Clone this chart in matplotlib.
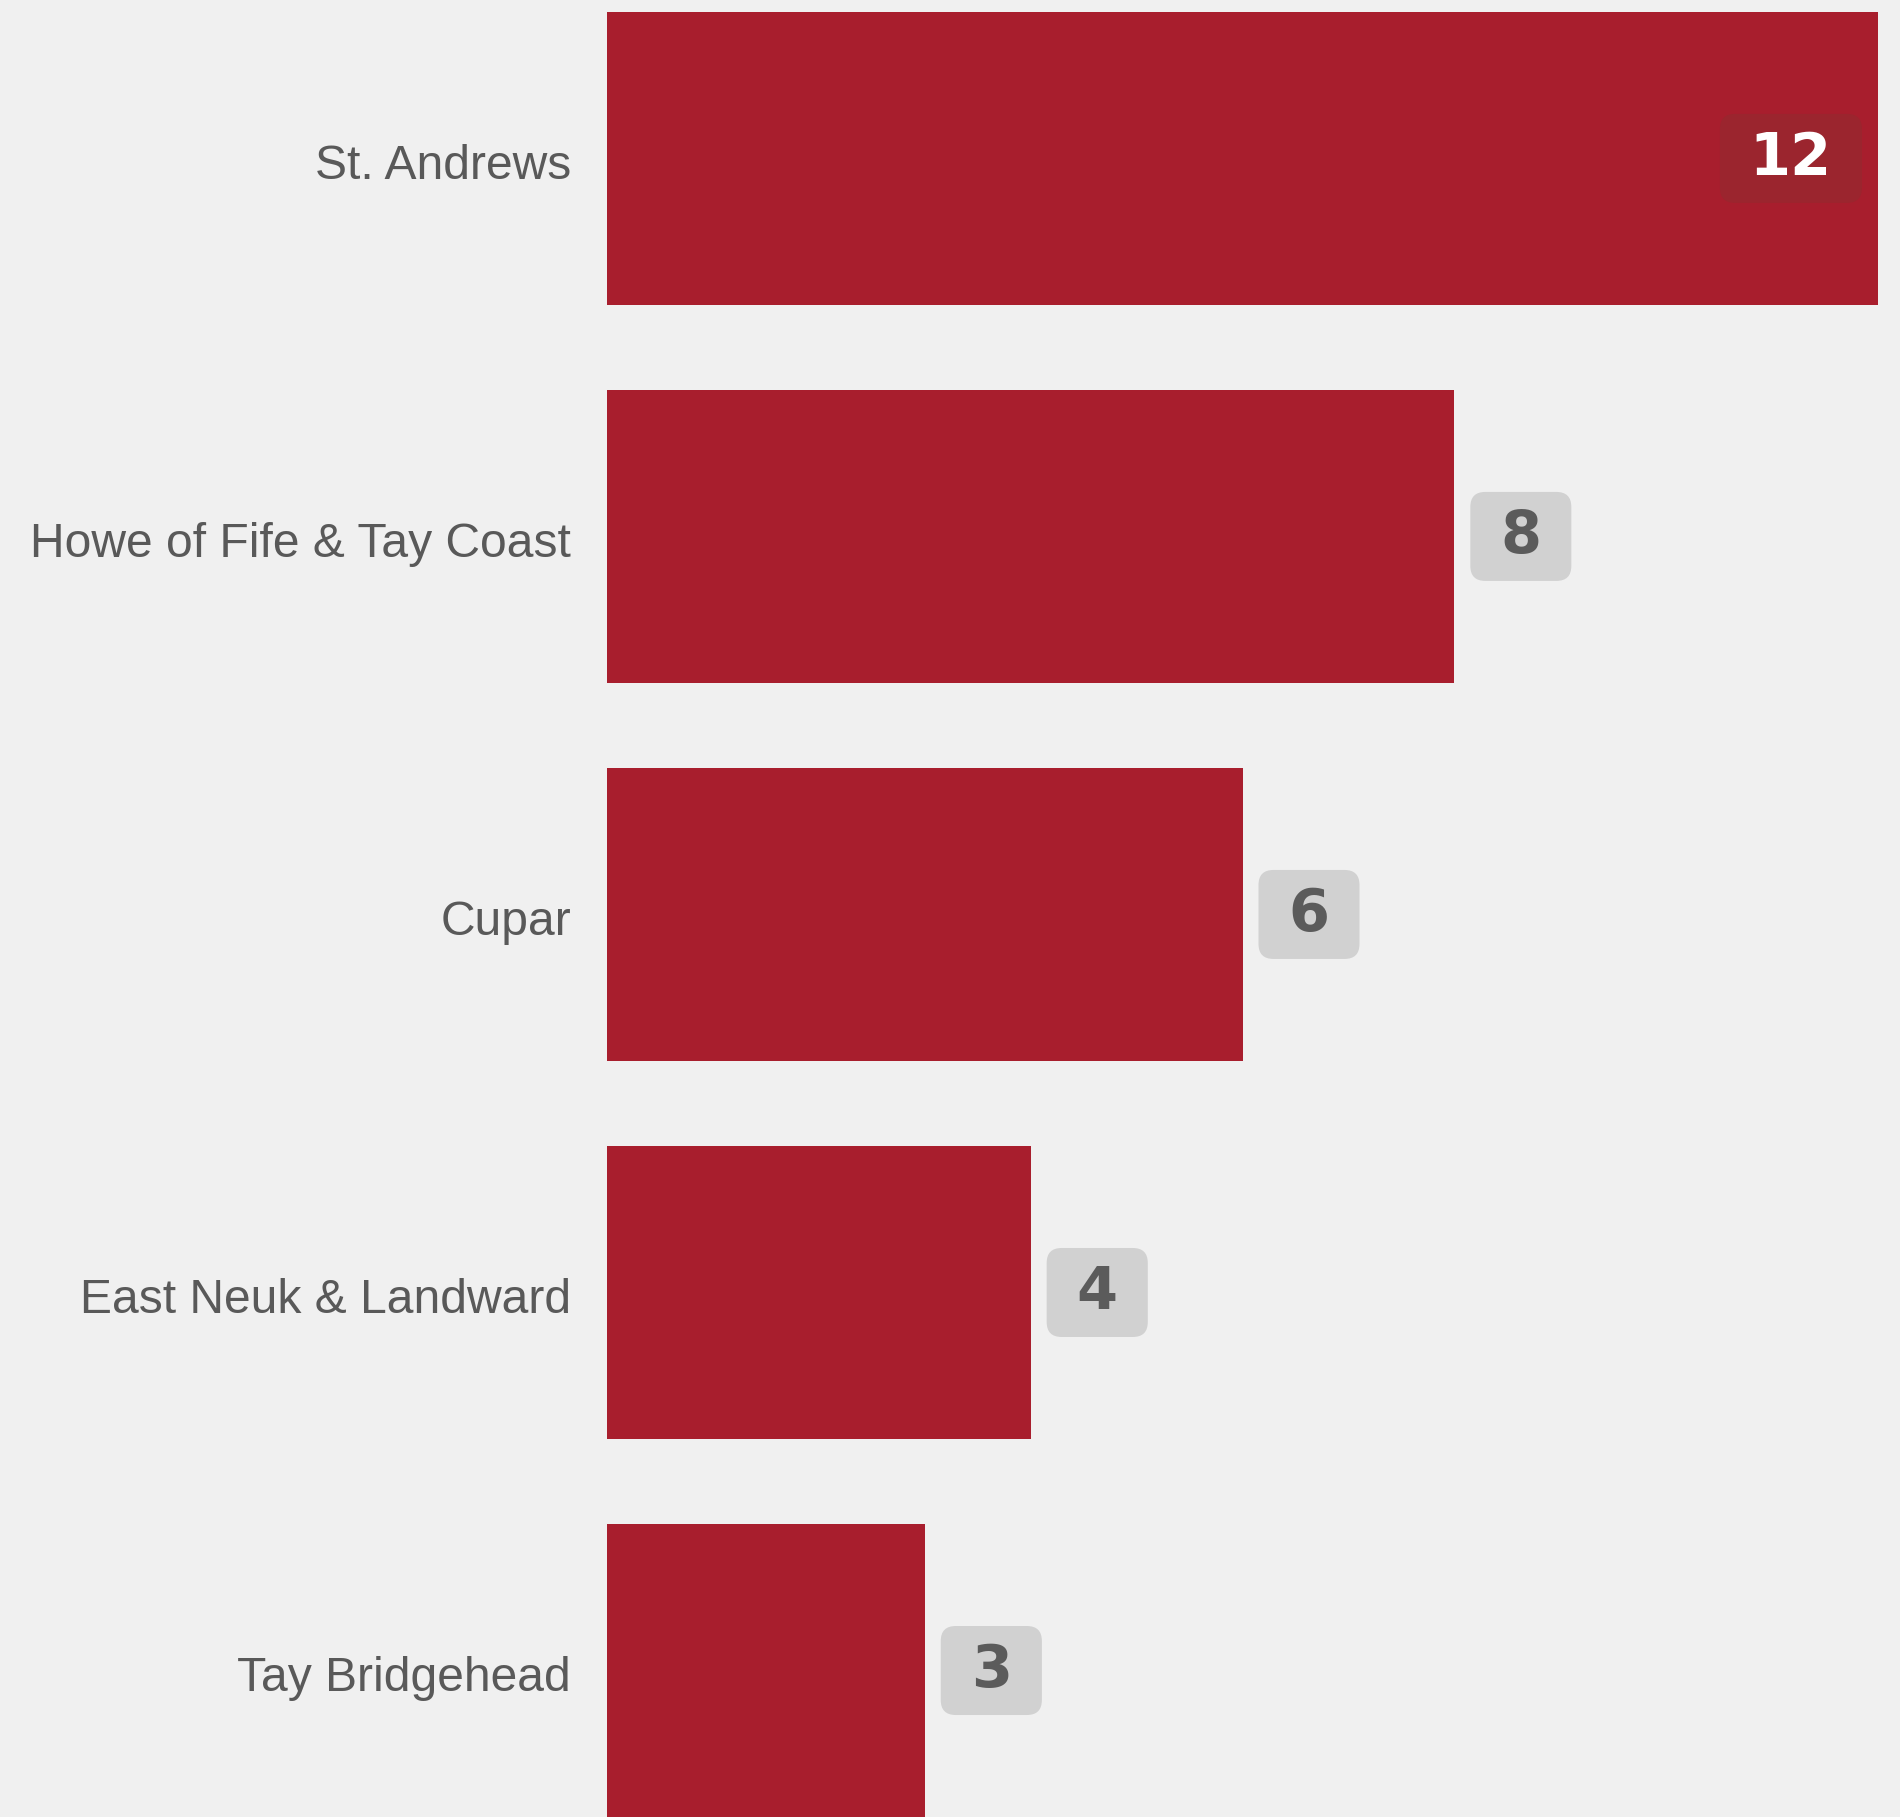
import matplotlib
matplotlib.use("Agg")
import matplotlib.pyplot as plt
from matplotlib.patches import FancyBboxPatch
from matplotlib.transforms import Affine2D, ScaledTranslation

categories = ["St. Andrews", "Howe of Fife & Tay Coast", "Cupar",
              "East Neuk & Landward", "Tay Bridgehead"]
values = [12, 8, 6, 4, 3]
inside = [True, False, False, False, False]

BG = "#f0f0f0"
BAR = "#a81e2d"
BOX_IN = "#9b252e"
BOX_OUT = "#d1d1d1"
TXT = "#5b5b5b"

fig = plt.figure(figsize=(19, 18.17), dpi=100, facecolor=BG)
ax = fig.add_axes([607 / 1900, 0, (1878 - 607) / 1900, 1])
ax.set_facecolor(BG)

y = list(range(len(categories)))
ax.barh(y, values, height=0.775, color=BAR, zorder=2)
ax.set_xlim(0, max(values))
ax.set_ylim(4.3875, -0.419)

ax.set_yticks(y)
ax.set_yticklabels(categories, fontsize=34.6, color="#595959", family="Liberation Sans")
ax.tick_params(axis="y", length=0, pad=26)
for lab in ax.get_yticklabels():
    lab.set_transform(lab.get_transform() + Affine2D().translate(0, -3))
ax.set_xticks([])
for s in ax.spines.values():
    s.set_visible(False)

fig.canvas.draw()
renderer = fig.canvas.get_renderer()
gap, padx, boxh = 16, 30, 89
for i, (v, ins) in enumerate(zip(values, inside)):
    base = ScaledTranslation(v, i, ax.transData)
    trans = Affine2D() + base
    s = str(v)
    t = ax.text(0, 0, s, transform=trans, fontsize=42.5, fontweight="heavy",
                family="DejaVu Sans", color="white" if ins else TXT,
                ha="center", va="center", zorder=5, clip_on=False)
    tw = t.get_window_extent(renderer).width
    bw = tw + 2 * padx
    x0 = -gap - bw if ins else gap
    box = FancyBboxPatch((x0, -boxh / 2), bw, boxh,
                         boxstyle="round,pad=0,rounding_size=15",
                         transform=trans, facecolor=BOX_IN if ins else BOX_OUT,
                         edgecolor="none", zorder=4, clip_on=False)
    ax.add_patch(box)
    t.set_position((x0 + bw / 2, 0))

fig.savefig("out.png", dpi=100, facecolor=BG)
